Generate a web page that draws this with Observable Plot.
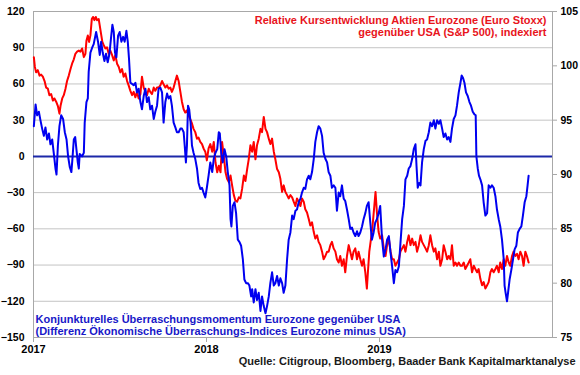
<!DOCTYPE html>
<html><head><meta charset="utf-8">
<script src="https://cdn.jsdelivr.net/npm/d3@7"></script>
<script src="https://cdn.jsdelivr.net/npm/@observablehq/plot@0.6"></script>
<style>body{margin:0;background:#fff;}</style>
</head><body><div id="chart"></div>
<script>
// Konjunkturelles Überraschungsmomentum (left axis), [decimal year, value]
const surprise = [
[2017.002,25],[2017.012,43],[2017.021,34],[2017.031,37],[2017.040,30],[2017.050,23],[2017.060,17],[2017.069,24],[2017.079,14],[2017.089,19],
[2017.098,10],[2017.108,14],[2017.117,3],[2017.127,-10],[2017.133,-15],[2017.141,9],[2017.150,25],[2017.160,34],[2017.171,31],[2017.181,20],
[2017.191,14],[2017.200,0],[2017.210,-9],[2017.219,-13],[2017.225,-2],[2017.233,14],[2017.241,16],[2017.248,6],[2017.256,-5],[2017.262,-10],
[2017.267,2],[2017.281,0],[2017.291,3],[2017.296,28],[2017.306,45],[2017.314,48],[2017.319,70],[2017.329,86],[2017.339,90],[2017.348,93],
[2017.362,103],[2017.373,95],[2017.383,84],[2017.391,95],[2017.400,86],[2017.410,79],[2017.419,85],[2017.429,78],[2017.439,85],[2017.448,98],
[2017.456,109],[2017.464,103],[2017.471,86],[2017.479,82],[2017.489,100],[2017.498,103],[2017.508,95],[2017.518,99],[2017.527,95],[2017.537,104],
[2017.545,95],[2017.552,81],[2017.560,61],[2017.570,60],[2017.579,59],[2017.589,61],[2017.598,53],[2017.608,56],[2017.618,45],[2017.627,39],
[2017.637,50],[2017.647,56],[2017.656,45],[2017.666,49],[2017.675,39],[2017.685,42],[2017.695,31],[2017.704,37],[2017.714,42],[2017.723,56],
[2017.733,57],[2017.743,53],[2017.752,28],[2017.762,45],[2017.772,52],[2017.781,48],[2017.791,50],[2017.800,42],[2017.810,28],[2017.820,24],
[2017.829,20],[2017.839,20],[2017.849,23],[2017.858,23],[2017.868,20],[2017.874,9],[2017.881,-5],[2017.887,9],[2017.893,42],[2017.900,39],
[2017.908,28],[2017.916,9],[2017.925,3],[2017.935,-2],[2017.945,-10],[2017.954,-22],[2017.964,-27],[2017.974,-26],[2017.983,-30],[2017.993,-34],
[2018.002,-26],[2018.012,-16],[2018.022,-5],
[2018.033,-13],[2018.042,-2],[2018.052,3],[2018.062,6],[2018.071,20],[2018.077,19],[2018.085,3],[2018.094,-5],[2018.104,6],[2018.114,0],
[2018.123,-13],[2018.133,-24],[2018.139,-52],[2018.144,-58],[2018.152,-41],[2018.162,-38],[2018.171,-47],[2018.181,-69],[2018.191,-71],[2018.200,-74],
[2018.210,-85],[2018.219,-102],[2018.229,-105],[2018.239,-105],[2018.248,-107],[2018.258,-116],[2018.264,-110],[2018.273,-121],[2018.283,-110],[2018.292,-119],
[2018.302,-113],[2018.312,-128],[2018.321,-116],[2018.331,-124],[2018.341,-130],[2018.350,-124],[2018.360,-116],[2018.369,-105],[2018.379,-96],[2018.389,-107],
[2018.398,-105],[2018.408,-99],[2018.418,-107],[2018.427,-101],[2018.437,-105],[2018.446,-113],[2018.456,-107],[2018.466,-85],[2018.475,-69],[2018.485,-63],
[2018.495,-49],[2018.504,-52],[2018.514,-45],[2018.523,-44],[2018.533,-38],[2018.543,-35],[2018.552,-30],[2018.562,-26],[2018.571,-27],[2018.581,-19],
[2018.591,-16],[2018.600,-19],[2018.610,-13],[2018.620,-2],[2018.629,12],[2018.639,20],[2018.648,25],[2018.658,23],[2018.668,17],[2018.677,3],
[2018.687,-2],[2018.697,-5],[2018.706,-13],[2018.716,-16],[2018.725,-26],[2018.735,-24],[2018.745,-26],[2018.754,-45],[2018.764,-30],[2018.773,-33],
[2018.783,-24],[2018.793,-35],[2018.802,-37],[2018.812,-44],[2018.822,-52],[2018.831,-60],[2018.841,-59],[2018.850,-63],[2018.860,-66],[2018.870,-62],
[2018.879,-66],[2018.889,-63],[2018.899,-58],[2018.908,-52],[2018.918,-47],[2018.927,-41],[2018.937,-38],[2018.947,-55],[2018.956,-69],[2018.966,-63],
[2018.975,-55],[2018.985,-52],[2018.995,-47],[2019.004,-41],
[2019.015,-69],[2019.025,-83],[2019.035,-77],[2019.044,-69],[2019.054,-66],[2019.064,-80],[2019.073,-91],[2019.083,-105],[2019.092,-94],[2019.102,-96],
[2019.112,-91],[2019.121,-72],[2019.131,-52],[2019.141,-41],[2019.150,-19],[2019.160,-16],[2019.169,-10],[2019.179,-8],[2019.189,-2],[2019.198,6],
[2019.208,10],[2019.214,-8],[2019.221,-26],[2019.229,-22],[2019.237,-24],[2019.246,-5],[2019.256,6],[2019.266,13],[2019.275,14],[2019.285,20],
[2019.294,28],[2019.304,25],[2019.314,30],[2019.323,23],[2019.333,30],[2019.343,27],[2019.352,30],[2019.362,23],[2019.371,16],[2019.381,19],
[2019.391,14],[2019.400,16],[2019.410,12],[2019.419,23],[2019.429,31],[2019.439,34],[2019.448,42],[2019.458,53],[2019.468,61],[2019.475,67],
[2019.483,65],[2019.491,61],[2019.500,53],[2019.510,50],[2019.520,45],[2019.529,42],[2019.539,37],[2019.548,35],[2019.556,34],[2019.560,0],
[2019.568,-10],[2019.575,-16],[2019.583,-19],[2019.593,-24],[2019.602,-38],[2019.612,-49],[2019.622,-47],[2019.631,-24],[2019.641,-26],[2019.650,-24],
[2019.660,-26],[2019.670,-33],[2019.679,-44],[2019.689,-52],[2019.698,-58],[2019.708,-69],[2019.718,-85],[2019.723,-107],[2019.729,-113],[2019.737,-120],
[2019.743,-113],[2019.752,-102],[2019.762,-94],[2019.772,-85],[2019.781,-77],[2019.791,-74],[2019.800,-63],[2019.810,-60],[2019.820,-58],[2019.829,-49],
[2019.839,-38],[2019.849,-33],[2019.856,-24],[2019.862,-16]
];

// Relative Kursentwicklung Euro Stoxx vs S&P 500 (right axis), [decimal year, index]
const relPerf = [
[2017.002,100.8],[2017.008,99.9],[2017.015,99.4],[2017.025,99.6],[2017.035,99.1],[2017.044,99.2],[2017.054,99.0],[2017.064,98.6],[2017.073,98.0],[2017.083,97.9],
[2017.092,97.3],[2017.102,97.4],[2017.112,96.8],[2017.121,97.0],[2017.131,96.7],[2017.141,96.3],[2017.150,95.6],[2017.156,96.3],[2017.166,97.0],[2017.175,97.3],
[2017.185,97.9],[2017.194,98.6],[2017.204,99.1],[2017.214,99.7],[2017.223,100.2],[2017.233,100.6],[2017.242,101.1],[2017.252,101.3],[2017.262,101.4],[2017.271,101.3],
[2017.281,101.6],[2017.291,100.8],[2017.300,101.1],[2017.306,102.3],[2017.314,102.8],[2017.321,102.2],[2017.329,102.8],[2017.337,104.3],[2017.344,104.5],[2017.352,104.2],
[2017.360,104.5],[2017.367,104.2],[2017.377,104.3],[2017.383,103.7],[2017.391,102.9],[2017.398,102.2],[2017.406,101.9],[2017.416,101.6],[2017.425,101.7],[2017.435,101.1],
[2017.444,101.4],[2017.454,101.0],[2017.464,100.5],[2017.473,101.0],[2017.483,100.2],[2017.493,99.9],[2017.502,99.4],[2017.512,99.7],[2017.521,99.0],[2017.531,99.3],
[2017.541,98.6],[2017.550,98.2],[2017.560,97.7],[2017.570,97.3],[2017.579,97.6],[2017.589,97.1],[2017.598,97.6],[2017.608,97.0],[2017.618,97.4],[2017.627,99.0],
[2017.637,98.0],[2017.647,97.6],[2017.656,97.3],[2017.666,97.9],[2017.675,97.6],[2017.685,97.4],[2017.695,98.0],[2017.704,97.7],[2017.714,98.0],[2017.723,98.0],
[2017.733,98.2],[2017.743,98.6],[2017.752,98.3],[2017.762,98.0],[2017.772,98.2],[2017.781,97.9],[2017.791,98.0],[2017.800,97.6],[2017.810,98.0],[2017.820,98.6],
[2017.829,99.1],[2017.839,98.6],[2017.849,97.6],[2017.858,96.7],[2017.868,96.0],[2017.877,95.7],[2017.887,95.9],[2017.897,95.4],[2017.906,95.1],[2017.916,94.7],
[2017.925,94.2],[2017.935,93.9],[2017.945,93.3],[2017.954,93.4],[2017.964,93.0],[2017.974,92.8],[2017.983,92.4],[2017.993,92.1],[2018.002,91.3],[2018.012,92.4],
[2018.022,92.8],
[2018.033,92.1],[2018.042,93.0],[2018.052,91.1],[2018.062,90.2],[2018.071,90.8],[2018.081,90.2],[2018.090,93.0],[2018.100,91.7],[2018.110,90.2],[2018.119,89.6],
[2018.129,89.3],[2018.139,89.9],[2018.148,89.0],[2018.158,88.1],[2018.167,87.6],[2018.177,87.5],[2018.187,87.9],[2018.196,87.8],[2018.206,88.7],[2018.216,89.9],
[2018.225,89.4],[2018.235,90.5],[2018.244,91.4],[2018.254,92.7],[2018.264,92.1],[2018.273,93.0],[2018.283,91.4],[2018.292,92.7],[2018.302,93.3],[2018.312,94.2],
[2018.321,93.9],[2018.331,95.3],[2018.341,94.2],[2018.350,93.9],[2018.360,93.3],[2018.369,92.8],[2018.379,93.3],[2018.389,92.1],[2018.398,91.4],[2018.408,90.5],
[2018.418,90.2],[2018.427,89.6],[2018.437,88.4],[2018.446,89.0],[2018.456,88.4],[2018.466,88.1],[2018.475,87.8],[2018.485,88.1],[2018.495,87.9],[2018.504,87.5],
[2018.514,87.1],[2018.523,87.8],[2018.533,87.5],[2018.543,87.1],[2018.552,87.8],[2018.562,87.5],[2018.571,86.8],[2018.581,86.5],[2018.591,85.9],[2018.600,85.3],
[2018.610,85.6],[2018.620,84.7],[2018.629,84.1],[2018.639,84.4],[2018.648,83.8],[2018.658,83.5],[2018.668,82.9],[2018.677,82.2],[2018.687,82.5],[2018.697,82.9],
[2018.706,82.9],[2018.716,83.5],[2018.725,83.8],[2018.735,83.2],[2018.745,82.9],[2018.754,82.2],[2018.764,81.9],[2018.773,82.5],[2018.783,81.6],[2018.793,82.2],
[2018.802,81.0],[2018.812,82.5],[2018.822,83.5],[2018.831,82.9],[2018.841,82.2],[2018.850,82.9],[2018.860,83.2],[2018.870,82.2],[2018.879,82.9],[2018.889,82.2],
[2018.899,81.6],[2018.908,82.2],[2018.918,81.0],[2018.927,79.5],[2018.933,81.0],[2018.941,82.9],[2018.951,84.1],[2018.960,85.3],[2018.970,87.1],[2018.977,88.4],
[2018.985,86.5],[2018.995,84.7],[2019.004,84.1],
[2019.015,84.4],[2019.025,83.2],[2019.035,82.5],[2019.044,83.5],[2019.054,84.1],[2019.064,82.9],[2019.073,82.2],[2019.083,82.2],[2019.092,81.6],[2019.102,81.9],
[2019.112,82.2],[2019.121,82.9],[2019.131,83.2],[2019.141,83.5],[2019.150,82.9],[2019.160,83.8],[2019.169,84.4],[2019.179,83.5],[2019.189,84.1],[2019.198,83.5],
[2019.208,83.8],[2019.217,82.9],[2019.227,83.5],[2019.237,84.4],[2019.246,83.8],[2019.256,83.5],[2019.266,83.2],[2019.275,82.9],[2019.285,83.5],[2019.294,84.4],
[2019.304,83.5],[2019.314,82.9],[2019.323,83.2],[2019.333,82.2],[2019.343,82.9],[2019.352,81.6],[2019.362,82.2],[2019.371,83.5],[2019.381,82.9],[2019.391,82.2],
[2019.400,82.5],[2019.410,82.2],[2019.419,83.5],[2019.429,81.6],[2019.439,81.9],[2019.448,81.6],[2019.458,81.9],[2019.468,81.6],[2019.477,81.6],[2019.487,81.9],
[2019.496,81.3],[2019.506,81.6],[2019.516,81.9],[2019.525,82.2],[2019.535,81.0],[2019.545,81.6],[2019.554,81.3],[2019.564,81.0],[2019.573,81.3],[2019.583,80.4],
[2019.593,79.8],[2019.602,80.1],[2019.612,79.5],[2019.622,79.8],[2019.631,80.1],[2019.641,81.0],[2019.650,81.3],[2019.660,81.0],[2019.670,81.3],[2019.679,81.6],
[2019.689,81.0],[2019.698,81.9],[2019.708,81.3],[2019.718,82.2],[2019.727,81.6],[2019.737,82.5],[2019.747,81.9],[2019.756,81.6],[2019.766,82.5],[2019.775,82.9],
[2019.785,82.5],[2019.795,82.7],[2019.804,82.2],[2019.814,82.9],[2019.824,82.5],[2019.833,81.6],[2019.843,82.9],[2019.852,82.5],[2019.862,81.9]
];

const leftTicks = [120, 90, 60, 30, 0, -30, -60, -90, -120, -150];
const gridTicks = [90, 60, 30, -30, -60, -90, -120];
const rightTicks = [105, 100, 95, 90, 85, 80, 75];
const yearTicks = [2017, 2018, 2019];
const redTitle = ["Relative Kursentwicklung Aktien Eurozone (Euro Stoxx)", "gegenüber USA (S&P 500), indexiert"];
const blueTitle = ["Konjunkturelles Überraschungsmomentum Eurozone gegenüber USA", "(Differenz Ökonomische Überraschungs-Indices Eurozone minus USA)"];
const source = "Quelle: Citigroup, Bloomberg, Baader Bank Kapitalmarktanalyse";

// right axis (75..105) mapped onto left axis (-150..120)
const toLeft = r => (r - 75) * 9 - 150;
const fromLeft = l => (l + 150) / 9 + 75;

const RED = "#ff0000", BLUE = "#0000f0";
const font = "'Liberation Sans', Arial, sans-serif";

const chart = Plot.plot({
  width: 580, height: 375,
  marginLeft: 33, marginRight: 28, marginTop: 11, marginBottom: 38,
  x: {domain: [2017, 2020]},
  y: {domain: [-150, 120]},
  style: {fontFamily: font, fontSize: "10.5px", fontWeight: "bold", color: "#000", background: "#fff", overflow: "visible"},
  marks: [
    Plot.gridY(gridTicks, {stroke: "#c4c4c4", strokeOpacity: 1}),
    Plot.frame({stroke: "#a8a8a8"}),
    Plot.ruleY([0], {stroke: "#1c28a8", strokeWidth: 2}),
    Plot.line(relPerf, {x: d => d[0], y: d => toLeft(d[1]), stroke: RED, strokeWidth: 2}),
    Plot.line(surprise, {x: d => d[0], y: d => d[1], stroke: BLUE, strokeWidth: 2}),
    Plot.axisY(leftTicks, {anchor: "left", tickSize: 0, tickPadding: 9, fill: "#000"}),
    Plot.axisY(rightTicks.map(toLeft), {anchor: "right", tickSize: 4, tickPadding: 4, stroke: "#a8a8a8", fill: "#000",
      tickFormat: d => String(Math.round(fromLeft(d)))}),
    Plot.axisX(yearTicks, {anchor: "bottom", tickSize: 5, tickPadding: 3, stroke: "#a8a8a8", fill: "#000",
      fontSize: 11, tickFormat: d => String(d)}),
    Plot.text([redTitle[0]], {frameAnchor: "top-right", dx: -6, dy: 8.5, lineAnchor: "middle", fill: "#e8141c", fontSize: 11, fontWeight: "bold"}),
    Plot.text([redTitle[1]], {frameAnchor: "top-right", dx: -6, dy: 20.5, lineAnchor: "middle", fill: "#e8141c", fontSize: 11, fontWeight: "bold"}),
    Plot.text([blueTitle[0]], {frameAnchor: "bottom-left", dx: 2, dy: -18.5, lineAnchor: "middle", fill: "#1818c8", fontSize: 11, fontWeight: "bold"}),
    Plot.text([blueTitle[1]], {frameAnchor: "bottom-left", dx: 2, dy: -6.5, lineAnchor: "middle", fill: "#1818c8", fontSize: 11, fontWeight: "bold"}),
    Plot.text([source], {frameAnchor: "bottom-right", dx: 23, dy: 24, lineAnchor: "middle", fill: "#1a1a1a", fontSize: 11, fontWeight: "bold"})
  ]
});
document.getElementById("chart").appendChild(chart);
</script>
</body></html>
